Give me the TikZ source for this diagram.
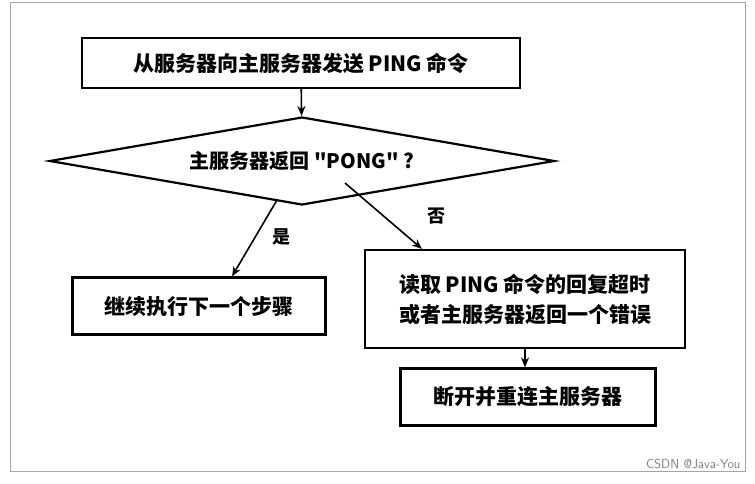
\documentclass[tikz,border=0pt]{standalone}
\usepackage{fontspec}
\setmainfont{Liberation Serif}
\newfontfamily\cjk{Noto Sans CJK SC}
\usetikzlibrary{arrows.meta,shapes.geometric}
\tikzset{
    stepbox/.style={draw, line width=2.2pt, inner sep=0pt, font={\cjk\bfseries\fontsize{21}{30}\selectfont}, align=left},
    flow/.style={-{Stealth[length=10pt,width=8pt]}, line width=1.6pt},
    tag/.style={font={\cjk\bfseries\fontsize{18}{20}\selectfont}}
}
\begin{document}
\begin{tikzpicture}[x=1pt,y=-1pt]
        \useasboundingbox (0,0) rectangle (755,483);
        \draw[color=gray!70, line width=0.8pt] (10,2) rectangle (745,471);
        \node[stepbox, minimum width=438, minimum height=50] (send) at (301,63) {从服务器向主服务器发送 PING 命令};
        \node[draw, line width=2.2pt, diamond, aspect=5.8, minimum width=505, minimum height=88, inner sep=0pt,
              font={\cjk\bfseries\fontsize{20}{23}\selectfont}] (check) at (302,161) {主服务器返回 "PONG" ?};
        \node[stepbox, minimum width=253, minimum height=57] (cont) at (199,306) {继续执行下一个步骤};
        \node[stepbox, minimum width=320, minimum height=98] (fail) at (525,299) {读取 PING 命令的回复超时\\或者主服务器返回一个错误};
        \node[stepbox, minimum width=255, minimum height=57] (reconn) at (528,397) {断开并重连主服务器};
        \coordinate (yesfrom) at (277,200);
        \coordinate (nofrom) at (345,183);
        \draw[flow] (yesfrom) -- (cont.north -| 232,0);
        \draw[flow] (nofrom) -- (fail.north -| 422,0);
        \node[tag] (yes) at (281,237) {是};
        \node[tag] (no) at (436,216) {否};
        \draw[flow] (send) -- (check);
        \draw[flow] (fail.south -| 525,0) -- (reconn.north -| 525,0);
        \node[font={\sffamily\fontsize{13}{14}\selectfont}, color=gray, anchor=south east] (mark) at (744,472) {CSDN @Java-You};
    \end{tikzpicture}
\end{document}
